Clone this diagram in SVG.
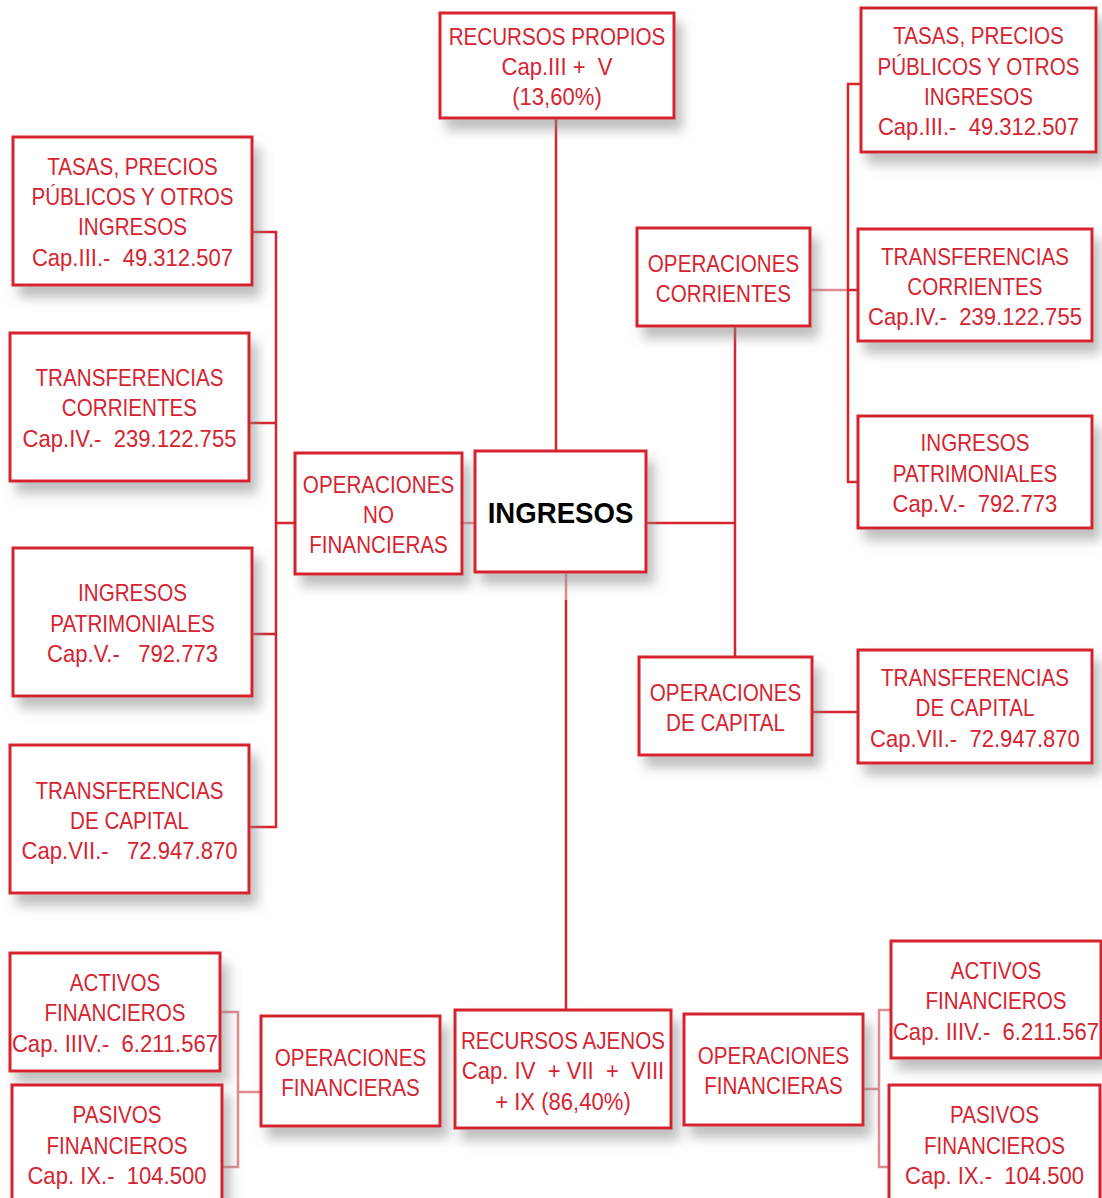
<svg xmlns="http://www.w3.org/2000/svg" width="1102" height="1198" viewBox="0 0 1102 1198">
<style>
.box{fill:#fff;stroke:#d5242f;stroke-width:3;filter:url(#sh)}
.t{font-family:"Liberation Sans",Arial,sans-serif;font-size:24px;fill:#d5242f;text-anchor:middle;white-space:pre;transform-box:fill-box;transform-origin:center;transform:scaleX(0.86)}
.t.n{transform:scaleX(0.92)}
.b{font-family:"Liberation Sans",Arial,sans-serif;font-size:30px;font-weight:bold;fill:#000;text-anchor:middle;transform-box:fill-box;transform-origin:center;transform:scaleX(0.92)}
.c{fill:none;stroke:#d5242f;stroke-width:2.5}
.cl{fill:none;stroke:#e08a90;stroke-width:2.5}
</style>
<defs>
<filter id="sh" x="-20%" y="-20%" width="150%" height="160%">
<feDropShadow dx="7" dy="11" stdDeviation="6" flood-color="#8a8a8a" flood-opacity="0.55"/>
</filter>
</defs>
<rect width="1102" height="1198" fill="#fff"/>
<g id="connectors">
<path class="c" d="M556 118V451"/>
<path class="cl" d="M462 523H475"/>
<path class="c" d="M295 523H276M252 232H276V827H249M249 423H276M252 634H276"/>
<path class="c" d="M646 523H735M735 326V657"/>
<path class="cl" d="M810 290H848"/>
<path class="c" d="M861 84H848V482H858M848 290H858"/>
<path class="c" d="M812 712H858"/>
<path class="cl" d="M566 572V600"/>
<path class="c" d="M566 600V1010"/>
<path class="cl" d="M261 1092H238M220 1012H238V1167H222"/>
<path class="cl" d="M863 1089H879M891 1010H879V1167H889"/>
</g>
<g id="recursos-propios"><rect class="box" x="440" y="13" width="234" height="105"/>
<text class="t" x="557" y="45">RECURSOS PROPIOS</text><text class="t n" x="557" y="75">Cap.III +  V</text><text class="t n" x="557" y="105">(13,60%)</text></g>
<g id="l-tasas"><rect class="box" x="13" y="137" width="239" height="148"/>
<text class="t" x="132.5" y="175">TASAS, PRECIOS</text><text class="t" x="132.5" y="205">PÚBLICOS Y OTROS</text><text class="t" x="132.5" y="235">INGRESOS</text><text class="t n" x="132.5" y="266">Cap.III.-  49.312.507</text></g>
<g id="l-transf-corr"><rect class="box" x="10" y="333" width="239" height="148"/>
<text class="t" x="129.5" y="386">TRANSFERENCIAS</text><text class="t" x="129.5" y="416">CORRIENTES</text><text class="t n" x="129.5" y="447">Cap.IV.-  239.122.755</text></g>
<g id="op-no-fin"><rect class="box" x="295" y="453" width="167" height="121"/>
<text class="t" x="378.5" y="493">OPERACIONES</text><text class="t" x="378.5" y="523">NO</text><text class="t" x="378.5" y="553">FINANCIERAS</text></g>
<g id="ingresos"><rect class="box" x="475" y="451" width="171" height="121"/>
<text class="b" x="560.5" y="523">INGRESOS</text></g>
<g id="l-ing-patr"><rect class="box" x="13" y="548" width="239" height="148"/>
<text class="t" x="132.5" y="601">INGRESOS</text><text class="t" x="132.5" y="632">PATRIMONIALES</text><text class="t n" x="132.5" y="662">Cap.V.-   792.773</text></g>
<g id="l-transf-cap"><rect class="box" x="10" y="745" width="239" height="148"/>
<text class="t" x="129.5" y="799">TRANSFERENCIAS</text><text class="t" x="129.5" y="829">DE CAPITAL</text><text class="t n" x="129.5" y="859">Cap.VII.-   72.947.870</text></g>
<g id="op-corr"><rect class="box" x="637" y="228" width="173" height="98"/>
<text class="t" x="723.5" y="272">OPERACIONES</text><text class="t" x="723.5" y="302">CORRIENTES</text></g>
<g id="r-tasas"><rect class="box" x="861" y="8" width="235" height="144"/>
<text class="t" x="978.5" y="44">TASAS, PRECIOS</text><text class="t" x="978.5" y="75">PÚBLICOS Y OTROS</text><text class="t" x="978.5" y="105">INGRESOS</text><text class="t n" x="978.5" y="135">Cap.III.-  49.312.507</text></g>
<g id="r-transf-corr"><rect class="box" x="858" y="229" width="234" height="112"/>
<text class="t" x="975" y="265">TRANSFERENCIAS</text><text class="t" x="975" y="295">CORRIENTES</text><text class="t n" x="975" y="325">Cap.IV.-  239.122.755</text></g>
<g id="r-ing-patr"><rect class="box" x="858" y="416" width="234" height="112"/>
<text class="t" x="975" y="451">INGRESOS</text><text class="t" x="975" y="482">PATRIMONIALES</text><text class="t n" x="975" y="512">Cap.V.-  792.773</text></g>
<g id="op-cap"><rect class="box" x="639" y="657" width="173" height="98"/>
<text class="t" x="725.5" y="701">OPERACIONES</text><text class="t" x="725.5" y="731">DE CAPITAL</text></g>
<g id="r-transf-cap"><rect class="box" x="858" y="650" width="234" height="113"/>
<text class="t" x="975" y="686">TRANSFERENCIAS</text><text class="t" x="975" y="716">DE CAPITAL</text><text class="t n" x="975" y="747">Cap.VII.-  72.947.870</text></g>
<g id="l-activos"><rect class="box" x="10" y="953" width="210" height="118"/>
<text class="t" x="115" y="991">ACTIVOS</text><text class="t" x="115" y="1021">FINANCIEROS</text><text class="t n" x="115" y="1052">Cap. IIIV.-  6.211.567</text></g>
<g id="l-pasivos"><rect class="box" x="12" y="1085" width="210" height="125"/>
<text class="t" x="117" y="1123">PASIVOS</text><text class="t" x="117" y="1154">FINANCIEROS</text><text class="t n" x="117" y="1184">Cap. IX.-  104.500</text></g>
<g id="l-op-fin"><rect class="box" x="261" y="1016" width="179" height="110"/>
<text class="t" x="350.5" y="1066">OPERACIONES</text><text class="t" x="350.5" y="1096">FINANCIERAS</text></g>
<g id="recursos-ajenos"><rect class="box" x="455" y="1010" width="216" height="118"/>
<text class="t" x="563" y="1049">RECURSOS AJENOS</text><text class="t n" x="563" y="1079">Cap. IV  + VII  +  VIII</text><text class="t n" x="563" y="1110">+ IX (86,40%)</text></g>
<g id="r-op-fin"><rect class="box" x="684" y="1014" width="179" height="111"/>
<text class="t" x="773.5" y="1064">OPERACIONES</text><text class="t" x="773.5" y="1094">FINANCIERAS</text></g>
<g id="r-activos"><rect class="box" x="891" y="941" width="210" height="117"/>
<text class="t" x="996" y="979">ACTIVOS</text><text class="t" x="996" y="1009">FINANCIEROS</text><text class="t n" x="996" y="1040">Cap. IIIV.-  6.211.567</text></g>
<g id="r-pasivos"><rect class="box" x="889" y="1085" width="211" height="125"/>
<text class="t" x="994.5" y="1123">PASIVOS</text><text class="t" x="994.5" y="1154">FINANCIEROS</text><text class="t n" x="994.5" y="1184">Cap. IX.-  104.500</text></g>
</svg>
